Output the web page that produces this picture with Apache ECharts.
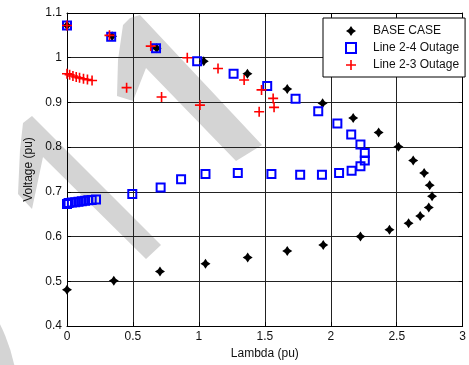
<!DOCTYPE html>
<html>
<head>
<meta charset="utf-8">
<script src="https://cdn.jsdelivr.net/npm/echarts@6/dist/echarts.min.js"></script>
<style>
  html, body { margin: 0; padding: 0; background: #fff; }
  #main { width: 469px; height: 365px; }
</style>
</head>
<body>
<div id="main"></div>
<script>
// values
var baseLambda  = [0, 0.355, 0.705, 1.05, 1.37, 1.67, 1.943, 2.225, 2.445, 2.59, 2.678, 2.743, 2.768, 2.75, 2.708, 2.625, 2.513, 2.363, 2.17, 1.938, 1.67, 1.368, 1.037, 0.68, 0.342, 0];
var baseVoltage = [0.481, 0.501, 0.522, 0.539, 0.553, 0.568, 0.581, 0.600, 0.615, 0.630, 0.646, 0.665, 0.690, 0.715, 0.742, 0.770, 0.801, 0.833, 0.865, 0.898, 0.930, 0.964, 0.992, 1.021, 1.048, 1.072];

var out24Lambda  = [0, 0.012, 0.037, 0.062, 0.087, 0.112, 0.137, 0.162, 0.187, 0.22, 0.495, 0.71, 0.865, 1.05, 1.295, 1.55, 1.768, 1.933, 2.063, 2.158, 2.225, 2.258, 2.258, 2.225, 2.155, 2.05, 1.905, 1.733, 1.518, 1.263, 0.987, 0.675, 0.335, 0];
var out24Voltage = [0.673, 0.675, 0.676, 0.677, 0.678, 0.679, 0.680, 0.681, 0.682, 0.683, 0.695, 0.710, 0.728, 0.740, 0.742, 0.740, 0.738, 0.738, 0.742, 0.747, 0.757, 0.770, 0.787, 0.806, 0.828, 0.853, 0.880, 0.908, 0.937, 0.964, 0.992, 1.021, 1.047, 1.072];

var out23Lambda  = [0, 0.322, 0.635, 0.912, 1.145, 1.343, 1.475, 1.563, 1.57, 1.457, 1.008, 0.717, 0.452, 0.19, 0.155, 0.125, 0.095, 0.07, 0.045, 0.02, 0];
var out23Voltage = [1.072, 1.050, 1.026, 1.000, 0.976, 0.950, 0.928, 0.909, 0.889, 0.879, 0.894, 0.912, 0.933, 0.949, 0.951, 0.953, 0.955, 0.957, 0.959, 0.962, 0.964];

var xTicks = [0, 0.5, 1, 1.5, 2, 2.5, 3];
var seriesNames = ['BASE CASE', 'Line 2-4 Outage', 'Line 2-3 Outage'];

function pairs(xs, ys) {
    var out = [];
    for (var i = 0; i < xs.length; i++) out.push([xs[i], ys[i]]);
    return out;
}

var starPath = 'path://M0,-5 L2,-2 L5,0 L2,2 L0,5 L-2,2 L-5,0 L-2,-2 Z';
var plusPath = 'path://M-0.8,-5 H0.8 V-0.8 H5 V0.8 H0.8 V5 H-0.8 V0.8 H-5 V-0.8 H-0.8 Z';
var font = 'Liberation Sans, Arial, sans-serif';
var wm = '#d4d4d4';
var squareStyle = { color: 'rgba(0,0,0,0)', borderColor: '#0000ff', borderWidth: 2, opacity: 1 };

var myChart = echarts.init(document.getElementById('main'));

myChart.setOption({
    animation: false,
    backgroundColor: '#fff',
    textStyle: { fontFamily: font },
    // grey watermark behind the plot
    graphic: [
        { type: 'polygon', z: -10, silent: true,
          shape: { points: [[123,25],[130,18],[140,15],[262,145],[236,161],[146,68],[133,101],[117,96],[118,60]] },
          style: { fill: wm } },
        { type: 'polygon', z: -10, silent: true,
          shape: { points: [[23,123],[32,116],[161,245],[146,259],[43,157],[32,209],[18,194],[20,150]] },
          style: { fill: wm } },
        { type: 'circle', z: -10, silent: true,
          shape: { cx: -150, cy: 400, r: 168 },
          style: { fill: wm } }
    ],
    grid: { left: 67, top: 13, width: 400, height: 315 },
    legend: {
        data: [
            { name: seriesNames[0], icon: starPath },
            { name: seriesNames[1], icon: 'rect', itemStyle: squareStyle },
            { name: seriesNames[2], icon: plusPath }
        ],
        left: 323, top: 18,
        orient: 'vertical',
        padding: [7, 6, 6, 22],
        itemWidth: 10, itemHeight: 10, itemGap: 5,
        backgroundColor: '#fff',
        borderColor: '#000', borderWidth: 1,
        borderRadius: 0,
        textStyle: { fontSize: 12, color: '#111', fontFamily: font, padding: [0, 0, 0, 12] }
    },
    xAxis: [{
        type: 'value', min: 0, max: 3, interval: 0.5,
        name: 'Lambda (pu)', nameLocation: 'middle', nameGap: 22,
        nameTextStyle: { fontSize: 12, color: '#111', verticalAlign: 'top' },
        axisLine: { onZero: false, lineStyle: { color: '#000' } },
        axisTick: { inside: true, length: 4, lineStyle: { color: '#000' } },
        axisLabel: { fontSize: 12, color: '#111', margin: 5 },
        splitLine: { show: true, lineStyle: { color: '#222', width: 1 } }
    }, {
        type: 'value', min: 0, max: 3, interval: 0.5, position: 'top',
        axisLine: { onZero: false, lineStyle: { color: '#000' } },
        axisTick: { inside: true, length: 4, lineStyle: { color: '#000' } },
        axisLabel: { show: false }, splitLine: { show: false }
    }],
    yAxis: [{
        type: 'value', min: 0.4, max: 1.1, interval: 0.1,
        name: 'Voltage (pu)', nameLocation: 'middle', nameGap: 29,
        nameTextStyle: { fontSize: 12, color: '#111' },
        axisLine: { show: true, onZero: false, lineStyle: { color: '#000' } },
        axisTick: { show: true, inside: true, length: 4, lineStyle: { color: '#000' } },
        axisLabel: { fontSize: 12, color: '#111', margin: 5,
            formatter: function (v) { return String(Math.round(v * 10) / 10); } },
        splitLine: { show: true, lineStyle: { color: '#222', width: 1 } }
    }, {
        type: 'value', min: 0.4, max: 1.1, interval: 0.1, position: 'right',
        axisLine: { show: true, onZero: false, lineStyle: { color: '#000' } },
        axisTick: { show: true, inside: true, length: 4, lineStyle: { color: '#000' } },
        axisLabel: { show: false }, splitLine: { show: false }
    }],
    series: [{
        name: seriesNames[0], type: 'scatter',
        symbol: starPath, symbolSize: 10,
        itemStyle: { color: '#000', opacity: 1 },
        data: pairs(baseLambda, baseVoltage)
    }, {
        name: seriesNames[1], type: 'scatter',
        symbol: 'rect', symbolSize: 8,
        itemStyle: squareStyle,
        data: pairs(out24Lambda, out24Voltage)
    }, {
        name: seriesNames[2], type: 'scatter',
        symbol: plusPath, symbolSize: 10,
        itemStyle: { color: '#ff0000', opacity: 1 },
        data: pairs(out23Lambda, out23Voltage)
    }]
});
</script>
</body>
</html>
